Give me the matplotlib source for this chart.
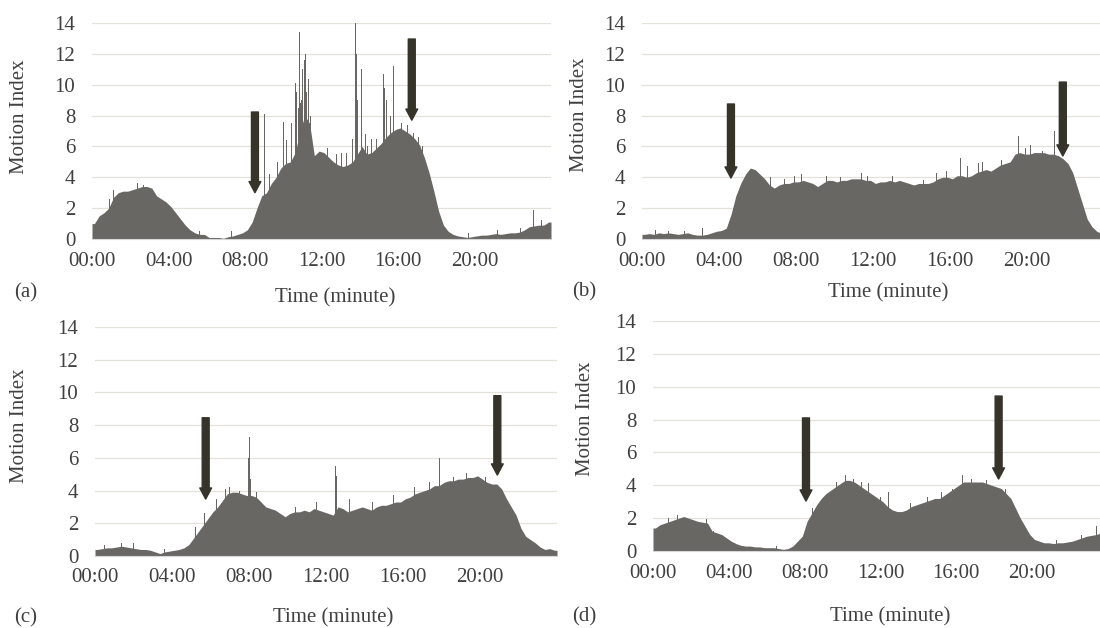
import matplotlib
matplotlib.use("Agg")
import matplotlib.pyplot as plt
import numpy as np

plt.rcParams["font.family"] = ["Liberation Serif", "DejaVu Serif"]

# Motion index, 15-minute samples over 24 h (00:00 ... 23:45)
a_vals = [1.0, 1.5, 1.7, 2.0, 2.7, 3.0, 3.1, 3.1, 3.2, 3.3, 3.4, 3.4,
          3.3, 2.8, 2.6, 2.4, 2.1, 1.7, 1.3, 0.9, 0.6, 0.4, 0.3, 0.3,
          0.1, 0.1, 0.1, 0.05, 0.15, 0.2, 0.3, 0.4, 0.6, 1.1, 2.0, 2.8,
          3.0, 3.6, 4.0, 4.6, 4.9, 5.0, 5.6, 7.0, 8.0, 7.5, 5.4, 5.7,
          5.6, 5.3, 5.0, 4.8, 4.7, 4.8, 5.0, 5.5, 6.0, 5.5, 5.6, 5.9,
          6.2, 6.6, 6.9, 7.1, 7.2, 7.0, 6.8, 6.5, 6.1, 5.3, 4.3, 3.1,
          1.8, 0.9, 0.5, 0.3, 0.2, 0.15, 0.1, 0.15, 0.2, 0.25, 0.25, 0.3,
          0.35, 0.3, 0.35, 0.4, 0.4, 0.45, 0.6, 0.8, 0.85, 0.9, 0.9, 1.1]
b_vals = [0.3, 0.35, 0.3, 0.4, 0.35, 0.4, 0.35, 0.3, 0.35, 0.4, 0.3, 0.25,
          0.25, 0.3, 0.4, 0.5, 0.55, 0.7, 1.6, 2.8, 3.6, 4.2, 4.6, 4.5,
          4.2, 3.9, 3.5, 3.3, 3.5, 3.6, 3.6, 3.7, 3.7, 3.8, 3.7, 3.6,
          3.4, 3.6, 3.8, 3.8, 3.7, 3.8, 3.8, 3.9, 3.9, 3.9, 3.8, 3.8,
          3.6, 3.7, 3.7, 3.8, 3.7, 3.8, 3.7, 3.6, 3.5, 3.6, 3.6, 3.6,
          3.7, 3.9, 4.0, 4.0, 3.9, 4.1, 4.1, 4.0, 4.1, 4.3, 4.4, 4.5,
          4.4, 4.6, 4.8, 4.9, 5.0, 5.5, 5.6, 5.5, 5.5, 5.6, 5.6, 5.6,
          5.5, 5.5, 5.4, 5.2, 4.9, 4.3, 3.3, 2.3, 1.3, 0.8, 0.5, 0.35]
c_vals = [0.4, 0.45, 0.5, 0.5, 0.55, 0.6, 0.55, 0.5, 0.45, 0.4, 0.4, 0.35,
          0.25, 0.15, 0.25, 0.3, 0.35, 0.4, 0.5, 0.7, 1.1, 1.5, 1.9, 2.3,
          2.7, 3.0, 3.4, 3.8, 3.9, 3.9, 3.8, 3.7, 3.7, 3.6, 3.3, 3.0,
          2.9, 2.8, 2.6, 2.4, 2.6, 2.7, 2.7, 2.8, 2.7, 2.9, 2.8, 2.7,
          2.6, 2.5, 3.0, 2.9, 2.7, 2.8, 2.9, 3.0, 2.9, 2.8, 3.0, 3.1,
          3.1, 3.2, 3.3, 3.3, 3.5, 3.6, 3.8, 3.9, 4.0, 4.1, 4.3, 4.3,
          4.5, 4.6, 4.6, 4.7, 4.7, 4.8, 4.8, 4.9, 4.7, 4.5, 4.4, 4.4,
          4.1, 3.5, 3.0, 2.5, 1.7, 1.2, 1.0, 0.8, 0.55, 0.4, 0.45, 0.35]
d_vals = [1.4, 1.6, 1.7, 1.8, 1.9, 2.0, 2.1, 2.0, 1.9, 1.8, 1.75, 1.7,
          1.2, 1.1, 1.0, 0.8, 0.6, 0.45, 0.35, 0.3, 0.3, 0.25, 0.25, 0.2,
          0.2, 0.2, 0.15, 0.1, 0.15, 0.3, 0.6, 0.9, 1.8, 2.3, 2.8, 3.2,
          3.5, 3.7, 3.9, 4.1, 4.3, 4.3, 4.2, 4.0, 3.8, 3.6, 3.4, 3.2,
          3.0, 2.7, 2.5, 2.4, 2.4, 2.5, 2.7, 2.8, 2.9, 3.0, 3.1, 3.2,
          3.2, 3.4, 3.6, 3.8, 4.0, 4.2, 4.2, 4.2, 4.2, 4.2, 4.1, 4.0,
          3.9, 3.8, 3.5, 3.2, 2.6, 2.0, 1.5, 1.0, 0.7, 0.6, 0.5, 0.5,
          0.45, 0.5, 0.5, 0.55, 0.6, 0.7, 0.8, 0.9, 0.95, 1.0, 1.1, 1.2]

# short bursts (hour, motion index)
a_spikes = [(0.9, 2.6), (1.1, 3.2), (2.4, 3.6), (2.7, 3.5), (4.8, 1.0), (5.6, 0.5),
            (7.3, 0.5), (9.03, 8.1), (9.3, 4.2), (9.7, 5.0), (10.02, 7.6), (10.15, 6.4),
            (10.43, 7.5), (10.64, 10.1), (10.7, 9.5), (10.78, 8.5), (10.86, 13.4),
            (10.9, 8.8), (10.95, 9.0), (11.0, 11.0), (11.09, 11.6), (11.14, 12.0),
            (11.2, 8.5), (11.22, 9.5), (11.31, 10.4), (11.42, 8.0), (12.3, 5.9),
            (12.8, 5.5), (13.05, 5.6), (13.3, 5.6), (13.6, 6.5), (13.76, 14.0),
            (13.82, 12.0), (13.9, 9.0), (14.08, 11.0), (14.3, 6.8), (14.4, 6.0),
            (14.6, 6.5), (14.9, 6.5), (15.24, 10.7), (15.3, 9.8), (15.4, 9.0),
            (15.6, 8.0), (15.77, 11.2), (16.0, 7.5), (16.2, 7.5), (16.5, 7.4),
            (16.8, 6.9), (17.08, 6.6), (17.3, 6.0), (19.7, 0.4), (21.2, 0.6),
            (22.4, 0.7), (23.07, 1.9), (23.5, 1.2)]
b_spikes = [(0.7, 0.6), (1.4, 0.5), (2.2, 0.55), (3.12, 0.7), (6.7, 4.0), (7.4, 3.9),
            (7.9, 4.1), (8.3, 4.2), (9.6, 4.1), (10.3, 4.0), (11.4, 4.3), (11.7, 4.1),
            (13.0, 4.1), (14.6, 3.8), (15.3, 4.3), (15.8, 4.4), (16.54, 5.25),
            (16.9, 4.7), (17.5, 4.9), (17.7, 5.0), (18.7, 5.1), (19.57, 6.7),
            (19.9, 5.9), (20.2, 6.1), (20.8, 5.7), (21.43, 7.0)]
c_spikes = [(0.5, 0.7), (1.4, 0.8), (2.0, 0.8), (3.6, 0.45), (5.2, 1.8), (5.7, 2.6),
            (6.3, 3.5), (6.8, 4.1), (7.0, 4.2), (7.5, 4.0), (7.95, 6.0), (8.02, 7.3),
            (8.1, 4.7), (8.4, 3.9), (10.4, 3.0), (11.5, 3.3), (12.48, 5.5),
            (12.55, 4.9), (13.2, 3.5), (14.4, 3.3), (15.5, 3.7), (16.6, 4.2),
            (17.4, 4.5), (17.9, 6.0), (18.6, 4.8), (19.3, 5.1), (20.3, 4.8)]
d_spikes = [(0.8, 2.0), (1.3, 2.2), (2.81, 1.95), (3.2, 1.2), (4.3, 0.5), (6.5, 0.3),
            (8.4, 2.6), (9.7, 4.2), (10.15, 4.6), (10.6, 4.4), (11.0, 4.2),
            (11.37, 4.15), (12.0, 3.3), (12.42, 3.6), (13.6, 2.9), (14.5, 3.3),
            (15.2, 3.6), (15.8, 3.8), (16.32, 4.6), (16.8, 4.4), (17.6, 4.3),
            (18.6, 3.8), (21.3, 0.7), (22.6, 1.0), (23.4, 1.5)]

# marker arrows (hour, top, tip)
a_arrows = [(8.52, 8.23, 3.0), (16.72, 12.96, 7.7)]
b_arrows = [(4.62, 8.75, 3.95), (21.86, 10.17, 5.38)]
c_arrows = [(5.75, 8.45, 3.48), (20.9, 9.8, 4.95)]
d_arrows = [(8.07, 8.1, 3.04), (18.23, 9.43, 4.38)]

tick_min = [0, 240, 480, 720, 960, 1200]
tick_lbl = ["00:00", "04:00", "08:00", "12:00", "16:00", "20:00"]

FILL = "#686763"
GRID = "#e4e1da"
ARROW = "#35332a"
TEXT = "#404040"
FS = 15

W, H = 1100, 628
fig = plt.figure(figsize=(W / 100, H / 100), dpi=100)

# axes boxes in pixels: left, right, y of 0, y of 14
panels = [
    ("(a)", a_vals, a_spikes, a_arrows, (92, 551, 239, 23), (335, 298), (20, 117), (14, 293)),
    ("(b)", b_vals, b_spikes, b_arrows, (642, 1104, 239, 23), (888, 293), (580, 115), (572, 292)),
    ("(c)", c_vals, c_spikes, c_arrows, (95, 557, 556, 327), (333, 618), (20, 426), (14, 618)),
    ("(d)", d_vals, d_spikes, d_arrows, (653, 1108, 551, 321), (890, 617), (586, 419), (572, 617)),
]

for tag, vals, spikes, arrows, box, xl, yl, tg in panels:
    x0, x1, yb, yt = box
    ax = fig.add_axes([x0 / W, 1 - yb / H, (x1 - x0) / W, (yb - yt) / H])
    t = np.arange(len(vals)) * 15 + 7.5
    tx = np.r_[0, t, 1440]
    vy = np.r_[vals[0], vals, vals[-1]]
    ax.fill_between(tx, 0, vy, color=FILL, lw=0, zorder=2)
    sx = [h * 60 for h, _ in spikes]
    sy = [v for _, v in spikes]
    ax.bar(sx, sy, width=3, color=FILL, lw=0, zorder=2)

    for h, top, tip in arrows:
        ax.annotate("", xy=(h * 60, tip), xytext=(h * 60, top),
                    arrowprops=dict(arrowstyle="simple,head_width=0.85,head_length=0.8,tail_width=0.5",
                                    color=ARROW, shrinkA=0, shrinkB=0, mutation_scale=10),
                    zorder=4)

    ax.set_xlim(0, 1440)
    ax.set_ylim(0, 14)
    ax.set_yticks(range(0, 15, 2))
    ax.set_xticks(tick_min)
    ax.set_xticklabels(tick_lbl)
    ax.grid(axis="y", color=GRID, lw=0.9, zorder=0)
    ax.set_axisbelow(True)
    for s in ("top", "right", "left"):
        ax.spines[s].set_visible(False)
    ax.spines["bottom"].set_color("#d6d6d6")
    ax.spines["bottom"].set_linewidth(0.8)
    ax.tick_params(length=0, labelsize=FS, labelcolor=TEXT)
    ax.tick_params(axis="y", pad=12)
    ax.tick_params(axis="x", pad=9)

    fig.text(xl[0] / W, 1 - xl[1] / H, "Time (minute)", ha="center", va="center",
             fontsize=FS, color=TEXT)
    fig.text(yl[0] / W, 1 - yl[1] / H, "Motion Index", ha="center", va="center",
             rotation=90, fontsize=FS, color=TEXT)
    fig.text(tg[0] / W, 1 - tg[1] / H, tag, ha="left", va="center",
             fontsize=FS, color=TEXT)

fig.savefig("out.png", dpi=100)
